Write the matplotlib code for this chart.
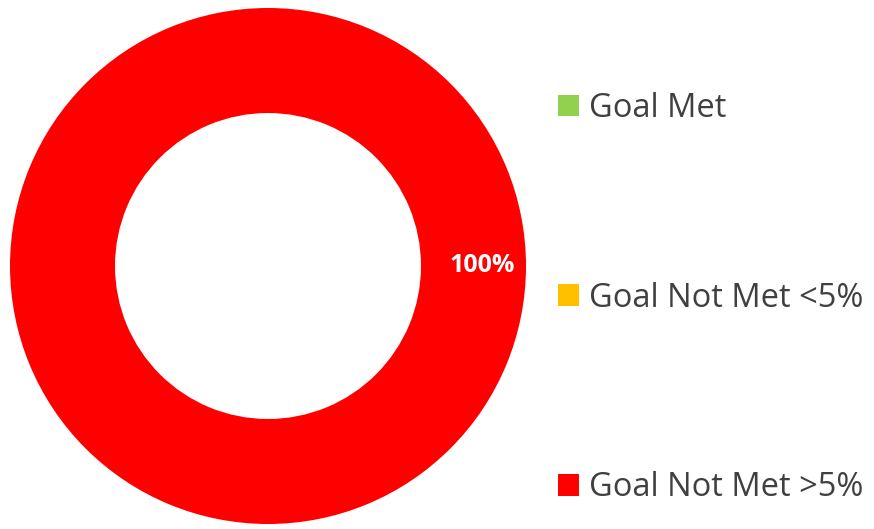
import matplotlib.pyplot as plt

categories = ["Goal Met", "Goal Not Met <5%", "Goal Not Met >5%"]
shares = [0, 0, 100]
colors = ["#92D050", "#FFC000", "#FF0000"]

plt.rcParams["font.family"] = ["Open Sans", "DejaVu Sans"]

W, H = 874, 529
fig = plt.figure(figsize=(W / 100, H / 100), dpi=100)

# donut axes placed in pixel terms: outer radius ~258 px, centre (268, 266)
R = 258
cx, cy = 268, 266
ax = fig.add_axes([(cx - R) / W, (H - cy - R) / H, 2 * R / W, 2 * R / H])


def pct_label(p):
    return f"{p:.0f}%" if p > 0 else ""


wedges, texts, autotexts = ax.pie(
    shares, colors=colors, startangle=180, counterclock=True,
    radius=1.0, wedgeprops=dict(width=0.407, edgecolor="none"),
    autopct=pct_label, pctdistance=0.83,
    textprops=dict(color="white", fontsize=18, fontweight="bold"),
)
ax.set_xlim(-1, 1)
ax.set_ylim(-1, 1)
ax.set_aspect("equal")
ax.axis("off")

leg = fig.legend(
    wedges, categories, loc="upper left",
    bbox_to_anchor=(558 / W, 1 - 92 / H),
    frameon=False, fontsize=23.5, labelcolor="#404040",
    handlelength=0.65, handleheight=0.65, handletextpad=0.3,
    labelspacing=4.8, borderpad=0, borderaxespad=0,
)

fig.savefig("out.png", dpi=100)
